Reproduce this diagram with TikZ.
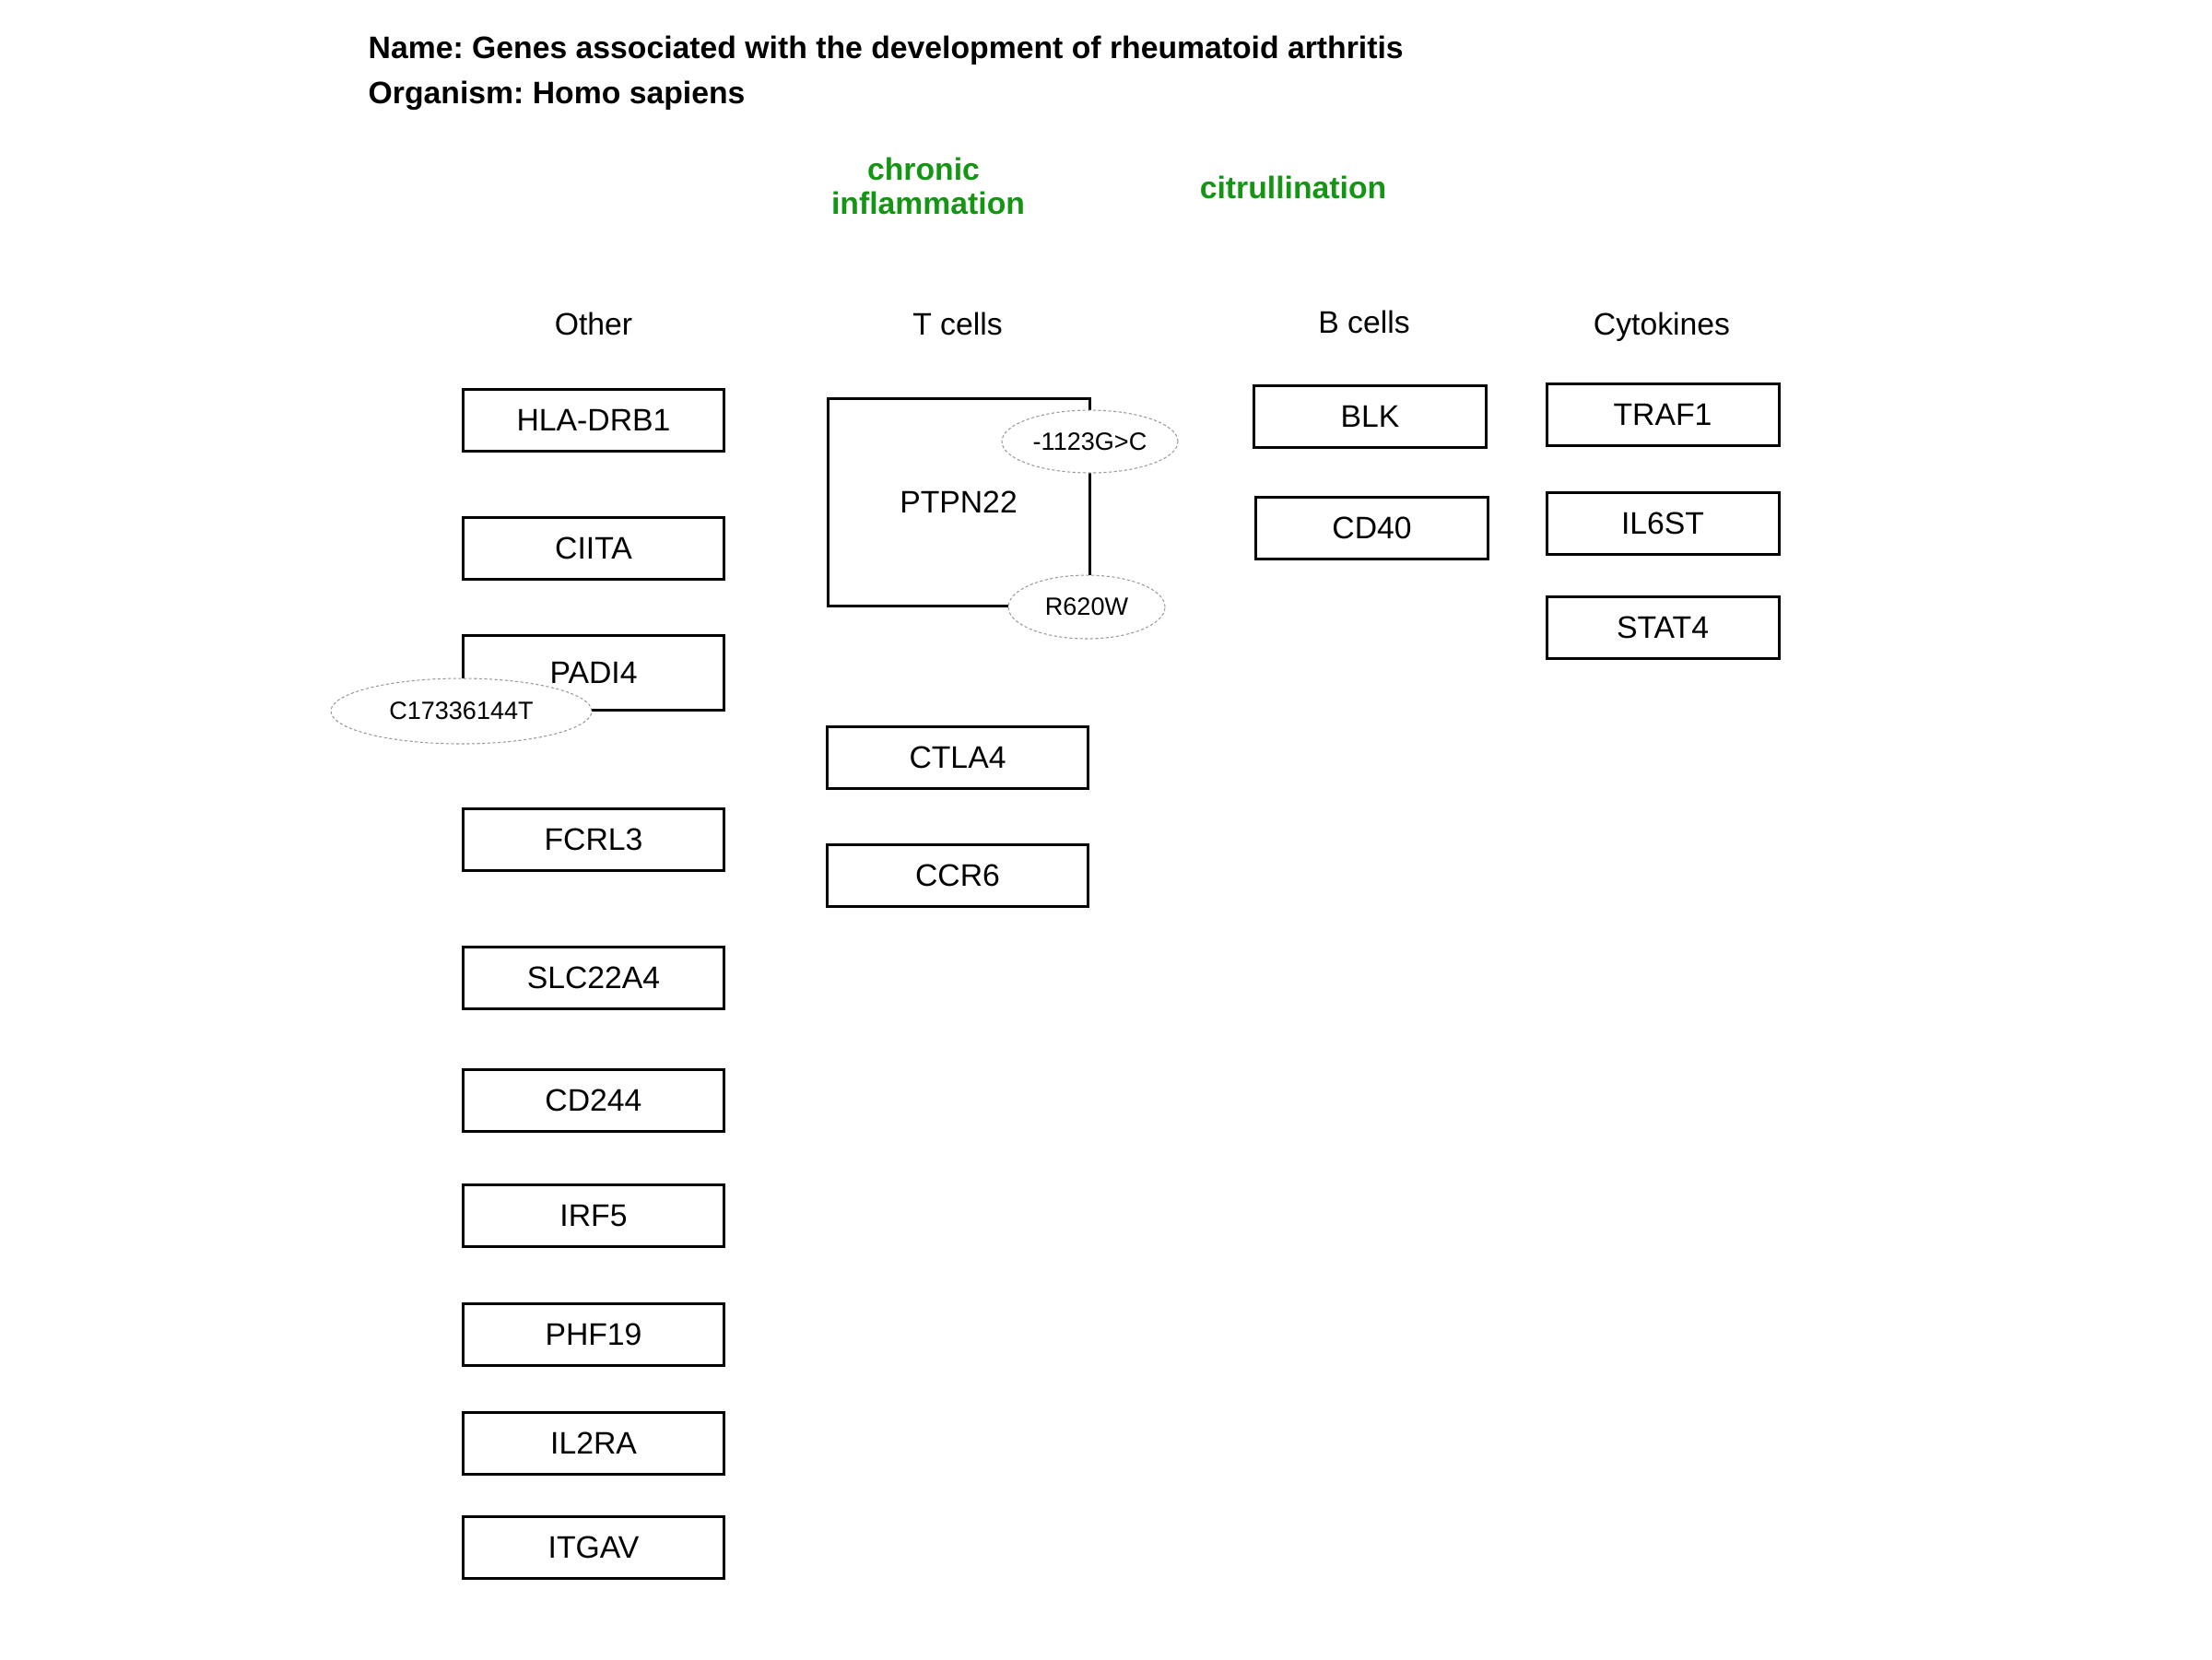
\documentclass[tikz,border=0pt]{standalone}
\usepackage{fontspec}
\setmainfont{Liberation Sans}
\frenchspacing
\usetikzlibrary{shapes.geometric}
\definecolor{procgreen}{RGB}{20,150,20}
\tikzset{
    GB/.style ={rectangle, draw, line width=0.85pt, minimum width=2.83cm, minimum height=0.67cm, inner sep=0pt, font=\fontsize{9.6}{11.5}\selectfont},
    GBs/.style ={GB, minimum width=2.52cm},
    SNP/.style ={ellipse, draw=gray!80, dash pattern=on 0.9pt off 0.7pt, line width=0.3pt, fill=white, inner sep=0pt, font=\fontsize{7.7}{9}\selectfont},
    HD/.style ={anchor=base, font=\fontsize{9.6}{11.5}\selectfont},
    PR/.style ={anchor=base, text=procgreen, font=\bfseries\fontsize{9.6}{11.5}\selectfont},
    TT/.style ={anchor=base west, inner sep=0pt, font=\bfseries\fontsize{9.6}{11.5}\selectfont}}

\begin{document}
\begin{tikzpicture}
        \useasboundingbox (0,0) rectangle (24,-18);
        % title
        \node[TT] (name) at(3.99,-0.63){Name: Genes associated with the development of rheumatoid arthritis};
        \node[TT] (org) at(3.99,-1.12){Organism: Homo sapiens};
        % processes
        \node[PR] (chr1) at(10.02,-1.95){chronic};
        \node[PR] (chr2) at(10.07,-2.32){inflammation};
        \node[PR] (cit) at(14.03,-2.15){citrullination};
        % headers
        \node[HD] (h1) at(6.44,-3.63){Other};
        \node[HD] (h2) at(10.39,-3.63){T cells};
        \node[HD] (h3) at(14.80,-3.61){B cells};
        \node[HD] (h4) at(18.03,-3.63){Cytokines};
        % Other
        \node[GB] (1) at(6.44,-4.56){HLA-DRB1};
        \node[GB] (2) at(6.44,-5.95){CIITA};
        \node[GB,minimum height=0.81cm] (3) at(6.44,-7.295){PADI4};
        \node[GB] (4) at(6.44,-9.11){FCRL3};
        \node[GB] (5) at(6.44,-10.61){SLC22A4};
        \node[GB] (6) at(6.44,-11.94){CD244};
        \node[GB] (7) at(6.44,-13.19){IRF5};
        \node[GB] (8) at(6.44,-14.48){PHF19};
        \node[GB] (9) at(6.44,-15.66){IL2RA};
        \node[GB] (10) at(6.44,-16.79){ITGAV};
        % T cells
        \node[GB,minimum width=2.84cm,minimum height=2.25cm] (11) at(10.40,-5.445){PTPN22};
        \node[GB] (12) at(10.39,-8.22){CTLA4};
        \node[GB] (13) at(10.39,-9.50){CCR6};
        % B cells
        \node[GBs] (14) at(14.865,-4.515){BLK};
        \node[GBs] (15) at(14.885,-5.725){CD40};
        % Cytokines
        \node[GBs] (16) at(18.04,-4.495){TRAF1};
        \node[GBs] (17) at(18.04,-5.68){IL6ST};
        \node[GBs] (18) at(18.04,-6.81){STAT4};
        % variants
        \node[SNP,minimum width=2.83cm,minimum height=0.71cm] (s1) at(5.005,-7.715){C17336144T};
        \node[SNP,minimum width=1.91cm,minimum height=0.68cm] (s2) at(11.825,-4.79){-1123G>C};
        \node[SNP,minimum width=1.70cm,minimum height=0.69cm] (s3) at(11.79,-6.585){R620W};
    \end{tikzpicture}
\end{document}
